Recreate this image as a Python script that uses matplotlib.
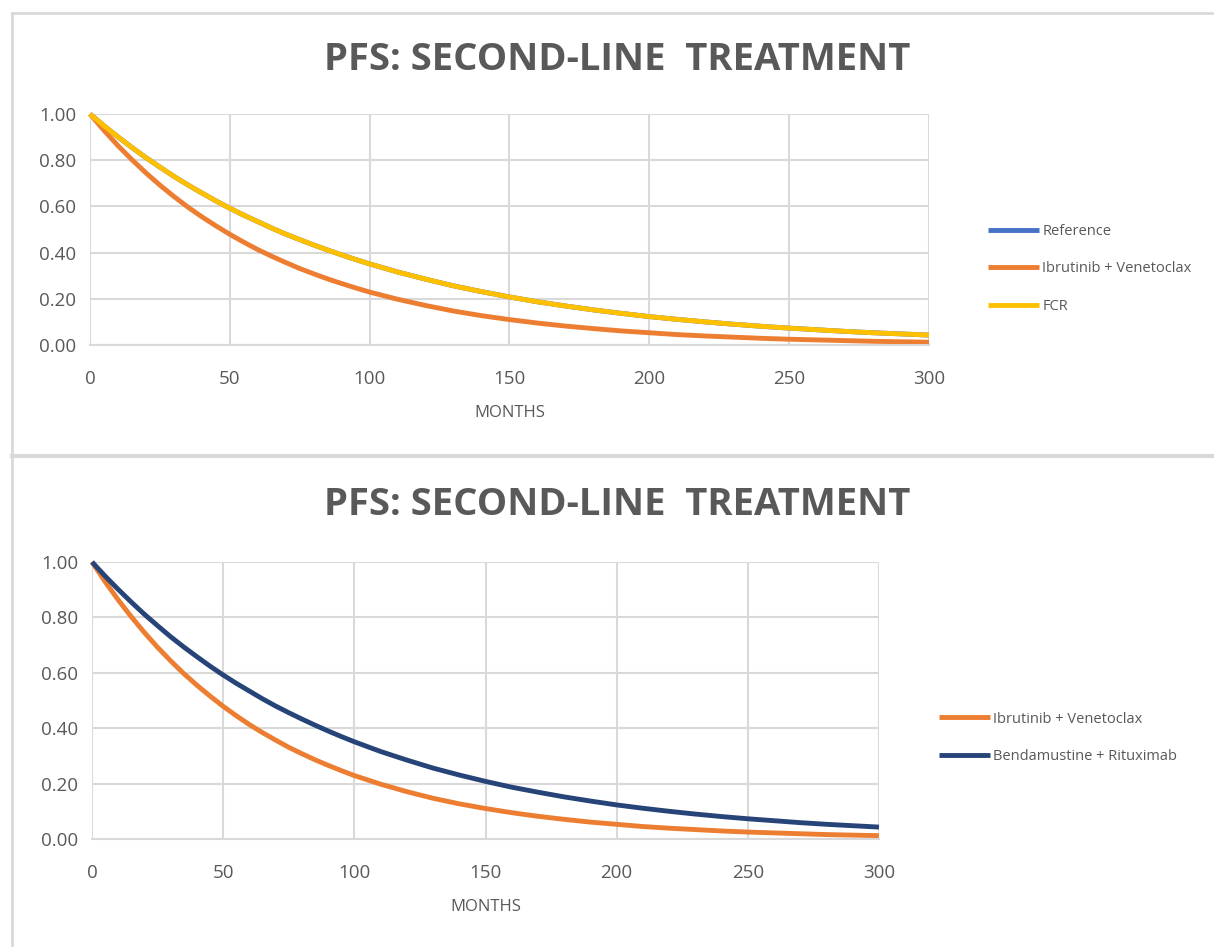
import matplotlib
matplotlib.use("Agg")
import matplotlib.pyplot as plt
from matplotlib.lines import Line2D

# Progression-free survival by month
months = [0, 5, 10, 15, 20, 25, 30, 35, 40, 45, 50, 55, 60, 65, 70, 75, 80, 85, 90, 95, 100,
          110, 120, 130, 140, 150, 160, 170, 180, 190, 200,
          210, 220, 230, 240, 250, 260, 270, 280, 290, 300]
pfs_reference = [1.00, 0.949, 0.901, 0.855, 0.811, 0.770, 0.730, 0.693, 0.658, 0.624, 0.592,
                 0.562, 0.534, 0.506, 0.480, 0.456, 0.433, 0.411, 0.390, 0.370, 0.351,
                 0.316, 0.285, 0.256, 0.231, 0.208, 0.187, 0.169, 0.152, 0.137, 0.123,
                 0.111, 0.100, 0.090, 0.081, 0.073, 0.066, 0.059, 0.053, 0.048, 0.043]
pfs_ibr_ven = [1.00, 0.929, 0.863, 0.802, 0.745, 0.692, 0.643, 0.597, 0.555, 0.516, 0.479,
               0.445, 0.413, 0.384, 0.357, 0.331, 0.308, 0.286, 0.266, 0.247, 0.229,
               0.198, 0.171, 0.147, 0.127, 0.110, 0.095, 0.082, 0.071, 0.061, 0.053,
               0.045, 0.039, 0.034, 0.029, 0.025, 0.022, 0.019, 0.016, 0.014, 0.012]
pfs_fcr = [1.00, 0.949, 0.901, 0.855, 0.811, 0.770, 0.730, 0.693, 0.658, 0.624, 0.592,
           0.562, 0.534, 0.506, 0.480, 0.456, 0.433, 0.411, 0.390, 0.370, 0.351,
           0.316, 0.285, 0.256, 0.231, 0.208, 0.187, 0.169, 0.152, 0.137, 0.123,
           0.111, 0.100, 0.090, 0.081, 0.073, 0.066, 0.059, 0.053, 0.048, 0.043]
pfs_benda_ritux = [1.00, 0.949, 0.901, 0.855, 0.811, 0.770, 0.730, 0.693, 0.658, 0.624, 0.592,
                   0.562, 0.534, 0.506, 0.480, 0.456, 0.433, 0.411, 0.390, 0.370, 0.351,
                   0.316, 0.285, 0.256, 0.231, 0.208, 0.187, 0.169, 0.152, 0.137, 0.123,
                   0.111, 0.100, 0.090, 0.081, 0.073, 0.066, 0.059, 0.053, 0.048, 0.043]

title_text = "PFS: SECOND-LINE  TREATMENT"
x_label = "MONTHS"
x_ticks = [0, 50, 100, 150, 200, 250, 300]
y_ticks = [0.0, 0.2, 0.4, 0.6, 0.8, 1.0]

C_BLUE = "#4472C4"
C_ORANGE = "#ED7D31"
C_YELLOW = "#FFC000"
C_NAVY = "#264478"
GRID = "#D9D9D9"
TXT = "#595959"

plt.rcParams["font.family"] = ["Open Sans", "DejaVu Sans"]

W, H = 1214, 947
fig = plt.figure(figsize=(W / 100, H / 100), dpi=100)


def frac_box(x0, y0, x1, y1):
    return [x0 / W, 1 - y1 / H, (x1 - x0) / W, (y1 - y0) / H]


# chart frames
fig.add_artist(Line2D([12 / W, 1], [1 - 13 / H, 1 - 13 / H], color=GRID, lw=2))
fig.add_artist(Line2D([12 / W, 12 / W], [0, 1 - 13 / H], color=GRID, lw=2))
fig.add_artist(Line2D([12 / W, 1], [1 - 456 / H, 1 - 456 / H], color=GRID, lw=3))


def style_axes(ax):
    ax.set_xlim(0, 300)
    ax.set_ylim(0, 1.0)
    ax.set_xticks(x_ticks)
    ax.set_yticks(y_ticks)
    ax.set_yticklabels([f"{v:.2f}" for v in y_ticks])
    ax.grid(True, color=GRID, lw=1.5)
    ax.set_axisbelow(True)
    for s in ["top", "right", "left"]:
        ax.spines[s].set_visible(False)
    ax.spines["bottom"].set_color(GRID)
    ax.spines["bottom"].set_linewidth(1.5)
    ax.tick_params(length=0, colors=TXT, labelsize=13.5)
    ax.tick_params(axis="x", pad=18)
    ax.tick_params(axis="y", pad=10)
    ax.set_xlabel(x_label, color=TXT, fontsize=12, labelpad=12)


def draw(ax, y, color, label):
    ax.plot(months, y, color=color, lw=3.5, label=label, clip_on=False,
            solid_joinstyle="round", solid_capstyle="butt")


# top chart
ax1 = fig.add_axes(frac_box(90, 114, 929, 345))
draw(ax1, pfs_reference, C_BLUE, "Reference")
draw(ax1, pfs_ibr_ven, C_ORANGE, "Ibrutinib + Venetoclax")
draw(ax1, pfs_fcr, C_YELLOW, "FCR")
style_axes(ax1)
fig.text(617 / W, 1 - 60 / H, title_text, ha="center", va="center",
         fontsize=27.5, fontweight="bold", color=TXT)
ax1.legend(loc="center left", bbox_to_anchor=(1.055, 0.33), frameon=False,
           fontsize=10.5, labelcolor=TXT, handlelength=3.5, handletextpad=0.2,
           labelspacing=1.55)

# bottom chart
ax2 = fig.add_axes(frac_box(92, 562, 879, 839))
draw(ax2, pfs_ibr_ven, C_ORANGE, "Ibrutinib + Venetoclax")
draw(ax2, pfs_benda_ritux, C_NAVY, "Bendamustine + Rituximab")
style_axes(ax2)
fig.text(617 / W, 1 - 505 / H, title_text, ha="center", va="center",
         fontsize=27.5, fontweight="bold", color=TXT)
ax2.legend(loc="center left", bbox_to_anchor=(1.06, 0.365), frameon=False,
           fontsize=10.5, labelcolor=TXT, handlelength=3.5, handletextpad=0.2,
           labelspacing=1.55)

fig.savefig("out.png", dpi=100, facecolor="white")
